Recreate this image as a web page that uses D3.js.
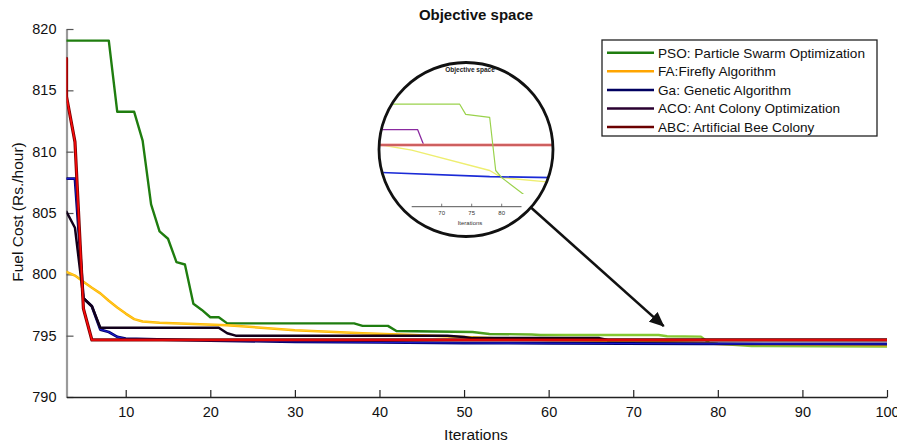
<!DOCTYPE html>
<html>
<head>
<meta charset="utf-8">
<script src="https://cdn.jsdelivr.net/npm/d3@7"></script>
<style>
  body { margin: 0; background: #fff; }
  svg { display: block; }
  text { font-family: "Liberation Sans", Arial, Helvetica, sans-serif; }
</style>
</head>
<body>
<svg id="chart" width="897" height="443"></svg>
<script>
// ---------------- DATA ----------------
const seriesLabels = [
  "PSO: Particle Swarm Optimization",
  "FA:Firefly Algorithm",
  "Ga: Genetic Algorithm",
  "ACO: Ant Colony Optimization",
  "ABC: Artificial Bee Colony"
];

const psoIter = [3, 8, 9, 11, 12, 13, 14, 15, 16, 17, 18, 19, 20, 21, 22, 37, 38, 41, 42, 51, 53, 58, 59, 73, 74, 78, 79, 80, 84, 100];
const psoCost = [819.05, 819.05, 813.25, 813.25, 810.9, 805.7, 803.5, 802.9, 801.0, 800.8, 797.6, 797.1, 796.5, 796.5, 796.0, 796.0, 795.8, 795.8, 795.38, 795.3, 795.14, 795.1, 795.05, 795.05, 794.95, 794.92, 794.4, 794.33, 794.15, 794.12];

const faIter = [3, 4, 5, 6, 7, 8, 9, 10, 11, 12, 14, 18, 22, 26, 30, 38, 44, 50, 55, 60, 65, 78, 80, 100];
const faCost = [800.2, 799.9, 799.4, 798.9, 798.45, 797.85, 797.3, 796.8, 796.35, 796.15, 796.05, 795.95, 795.85, 795.65, 795.45, 795.2, 795.05, 794.9, 794.75, 794.65, 794.6, 794.4, 794.33, 794.22];

const gaIter = [3, 4, 5, 6, 7, 8, 9, 10, 20, 30, 40, 50, 60, 78, 100];
const gaCost = [807.8, 807.8, 798.05, 797.4, 795.5, 795.3, 794.9, 794.75, 794.6, 794.5, 794.45, 794.4, 794.38, 794.34, 794.32];

const acoIter = [3, 4, 5, 6, 7, 21, 22, 23, 48, 50, 51, 66, 67, 100];
const acoCost = [805.1, 803.8, 798.05, 797.4, 795.65, 795.65, 795.2, 795.0, 795.0, 794.9, 794.8, 794.8, 794.65, 794.65];

const abcIter = [3, 3, 4, 5, 6, 100];
const abcCost = [817.6, 814.5, 810.8, 797.2, 794.65, 794.65];

const xTicks = [10, 20, 30, 40, 50, 60, 70, 80, 90, 100];
const yTicks = [790, 795, 800, 805, 810, 815, 820];
const miniTicks = [70, 75, 80];

// ---------------- LAYOUT ----------------
const svg = d3.select("#chart");
const plot = { left: 66.5, right: 887, top: 29, bottom: 397 };

const x = d3.scaleLinear().domain([3, 100]).range([plot.left, plot.right]);
const y = d3.scaleLinear().domain([790, 820]).range([plot.bottom, plot.top]);

const defs = svg.append("defs");
defs.append("clipPath").attr("id", "plotClip")
  .append("rect")
  .attr("x", plot.left).attr("y", plot.top - 2)
  .attr("width", plot.right - plot.left).attr("height", plot.bottom - plot.top + 2);

const grad = defs.append("linearGradient").attr("id", "psoGrad")
  .attr("gradientUnits", "userSpaceOnUse")
  .attr("x1", x(45)).attr("x2", x(62)).attr("y1", 0).attr("y2", 0);
grad.append("stop").attr("offset", "0%").attr("stop-color", "#1f7d0f");
grad.append("stop").attr("offset", "100%").attr("stop-color", "#86c832");

// ---------------- AXES ----------------
const yAxis = d3.axisLeft(y).tickValues(yTicks).tickSizeInner(-7).tickSizeOuter(0).tickPadding(10);
const gy = svg.append("g").attr("transform", `translate(${plot.left},0)`).call(yAxis);
gy.select(".domain").attr("stroke", "#9a9a9a").attr("stroke-width", 2.2);
gy.selectAll(".tick line").attr("stroke", "#555").attr("stroke-width", 1.2);
gy.selectAll(".tick text").attr("font-size", 14.5).attr("fill", "#111")
  .style("font-family", "'Liberation Sans', Arial, sans-serif");

const xAxis = d3.axisBottom(x).tickValues(xTicks).tickSizeInner(-7).tickSizeOuter(0).tickPadding(10);
const gx = svg.append("g").attr("transform", `translate(0,${plot.bottom})`).call(xAxis);
gx.select(".domain").attr("stroke", "#222").attr("stroke-width", 1.3);
gx.selectAll(".tick line").attr("stroke", "#222").attr("stroke-width", 1.2);
gx.selectAll(".tick text").attr("font-size", 14.5).attr("fill", "#111")
  .style("font-family", "'Liberation Sans', Arial, sans-serif");

svg.append("text").attr("x", 476).attr("y", 440).attr("text-anchor", "middle")
  .attr("font-size", 15.5).attr("fill", "#111").text("Iterations");
svg.append("text").attr("transform", "translate(23,212) rotate(-90)").attr("text-anchor", "middle")
  .attr("font-size", 15.5).attr("fill", "#111").text("Fuel Cost (Rs./hour)");
svg.append("text").attr("x", 476).attr("y", 20).attr("text-anchor", "middle")
  .attr("font-size", 15).attr("font-weight", "bold").attr("fill", "#111").text("Objective space");

// ---------------- LINES ----------------
const line = d3.line().x(d => x(d[0])).y(d => y(d[1]));
const lines = svg.append("g").attr("clip-path", "url(#plotClip)")
  .attr("fill", "none").attr("stroke-linejoin", "round").attr("stroke-linecap", "round");

const psoData = d3.zip(psoIter, psoCost);
const faData = d3.zip(faIter, faCost);
const gaData = d3.zip(gaIter, gaCost);
const acoData = d3.zip(acoIter, acoCost);
const abcData = d3.zip(abcIter, abcCost);

lines.append("path").datum(psoData).attr("d", line).attr("stroke", "url(#psoGrad)").attr("stroke-width", 2.4);
lines.append("path").datum(faData).attr("d", line).attr("stroke", "#ffb400").attr("stroke-width", 2.5);
lines.append("path").datum(faData).attr("d", line).attr("stroke", "#ffe24a").attr("stroke-width", 0.8).attr("opacity", 0.7);
lines.append("path").datum(gaData).attr("d", line).attr("stroke", "#00006a").attr("stroke-width", 2.8);
lines.append("path").datum(gaData).attr("d", line).attr("stroke", "#1c1cd0").attr("stroke-width", 1.1);
lines.append("path").datum(acoData).attr("d", line).attr("stroke", "#12001a").attr("stroke-width", 2.5);
lines.append("path").datum(abcData).attr("d", line).attr("stroke", "#7a0000").attr("stroke-width", 3.2);
lines.append("path").datum(abcData).attr("d", line).attr("stroke", "#ff0a0a").attr("stroke-width", 1.5);

// ---------------- LEGEND ----------------
const legendColors = ["#1f7d0f", "#ffa500", "#000060", "#2a0030", "#6b0000"];
const lg = svg.append("g");
lg.append("rect").attr("x", 602).attr("y", 40).attr("width", 275).attr("height", 96)
  .attr("fill", "#fff").attr("stroke", "#222").attr("stroke-width", 1.3);
seriesLabels.forEach((lab, i) => {
  const yy = 52.7 + i * 18.6;
  lg.append("line").attr("x1", 607).attr("x2", 654).attr("y1", yy).attr("y2", yy)
    .attr("stroke", legendColors[i]).attr("stroke-width", 2.5);
  lg.append("text").attr("x", 658).attr("y", yy).attr("dy", "0.36em")
    .attr("font-size", 13.6).attr("fill", "#111").text(lab);
});

// ---------------- ARROW ----------------
const cx = 466, cy = 149.5, cr = 87;
defs.append("marker").attr("id", "arrowHead")
  .attr("markerUnits", "userSpaceOnUse").attr("viewBox", "0 -7 15 14")
  .attr("markerWidth", 15).attr("markerHeight", 14).attr("refX", 14).attr("refY", 0)
  .attr("orient", "auto")
  .append("path").attr("d", "M0,-6.5L15,0L0,6.5Z").attr("fill", "#111");
svg.append("line").attr("x1", cx).attr("y1", cy).attr("x2", x(73.6)).attr("y2", y(795.78))
  .attr("stroke", "#111").attr("stroke-width", 2.6).attr("marker-end", "url(#arrowHead)");

// ---------------- MAGNIFIER ----------------
defs.append("clipPath").attr("id", "circClip")
  .append("circle").attr("cx", cx).attr("cy", cy).attr("r", cr - 1);
const mx = d3.scaleLinear().domain([70, 75]).range([441.7, 471.7]);
const my = d3.scaleLinear().domain([795.0, 794.0]).range([109.3, 211.3]);
defs.append("clipPath").attr("id", "miniClip")
  .append("rect").attr("x", 370).attr("y", 95).attr("width", 190).attr("height", 99);

const mag = svg.append("g");
mag.append("circle").attr("cx", cx).attr("cy", cy).attr("r", cr).attr("fill", "#fff");
const inner = mag.append("g").attr("clip-path", "url(#circClip)");
inner.append("text").attr("x", 470).attr("y", 72).attr("text-anchor", "middle")
  .attr("font-size", 6.5).attr("font-weight", "bold").attr("fill", "#222").text("Objective space");

const mline = d3.line().x(d => mx(d[0])).y(d => my(d[1]));
const ml = inner.append("g").append("g").attr("clip-path", "url(#miniClip)")
  .attr("fill", "none").attr("stroke-linejoin", "round");
ml.append("path").datum(faData).attr("d", mline).attr("stroke", "#eeee70").attr("stroke-width", 1.3);
ml.append("path").datum(gaData).attr("d", mline).attr("stroke", "#1a2ad6").attr("stroke-width", 1.6);
ml.append("path").datum(acoData).attr("d", mline).attr("stroke", "#8a2aa0").attr("stroke-width", 1.3);
ml.append("path").datum(abcData).attr("d", mline).attr("stroke", "#f29a9a").attr("stroke-width", 3.2);
ml.append("path").datum(abcData).attr("d", mline).attr("stroke", "#a01818").attr("stroke-width", 0.9);
ml.append("path").datum(psoData).attr("d", mline).attr("stroke", "#9ad24c").attr("stroke-width", 1.2);

const miniAxisY = 206.7;
inner.append("line").attr("x1", mx(65)).attr("x2", mx(83.3)).attr("y1", miniAxisY).attr("y2", miniAxisY)
  .attr("stroke", "#555").attr("stroke-width", 1);
miniTicks.forEach(t => {
  inner.append("line").attr("x1", mx(t)).attr("x2", mx(t)).attr("y1", miniAxisY).attr("y2", miniAxisY - 3)
    .attr("stroke", "#555").attr("stroke-width", 0.8);
  inner.append("text").attr("x", mx(t)).attr("y", miniAxisY + 8).attr("text-anchor", "middle")
    .attr("font-size", 6).attr("fill", "#333").text(t);
});
inner.append("text").attr("x", 470).attr("y", 225).attr("text-anchor", "middle")
  .attr("font-size", 6).attr("fill", "#333").text("Iterations");

mag.append("circle").attr("cx", cx).attr("cy", cy).attr("r", cr)
  .attr("fill", "none").attr("stroke", "#111").attr("stroke-width", 2.8);
</script>
</body>
</html>
